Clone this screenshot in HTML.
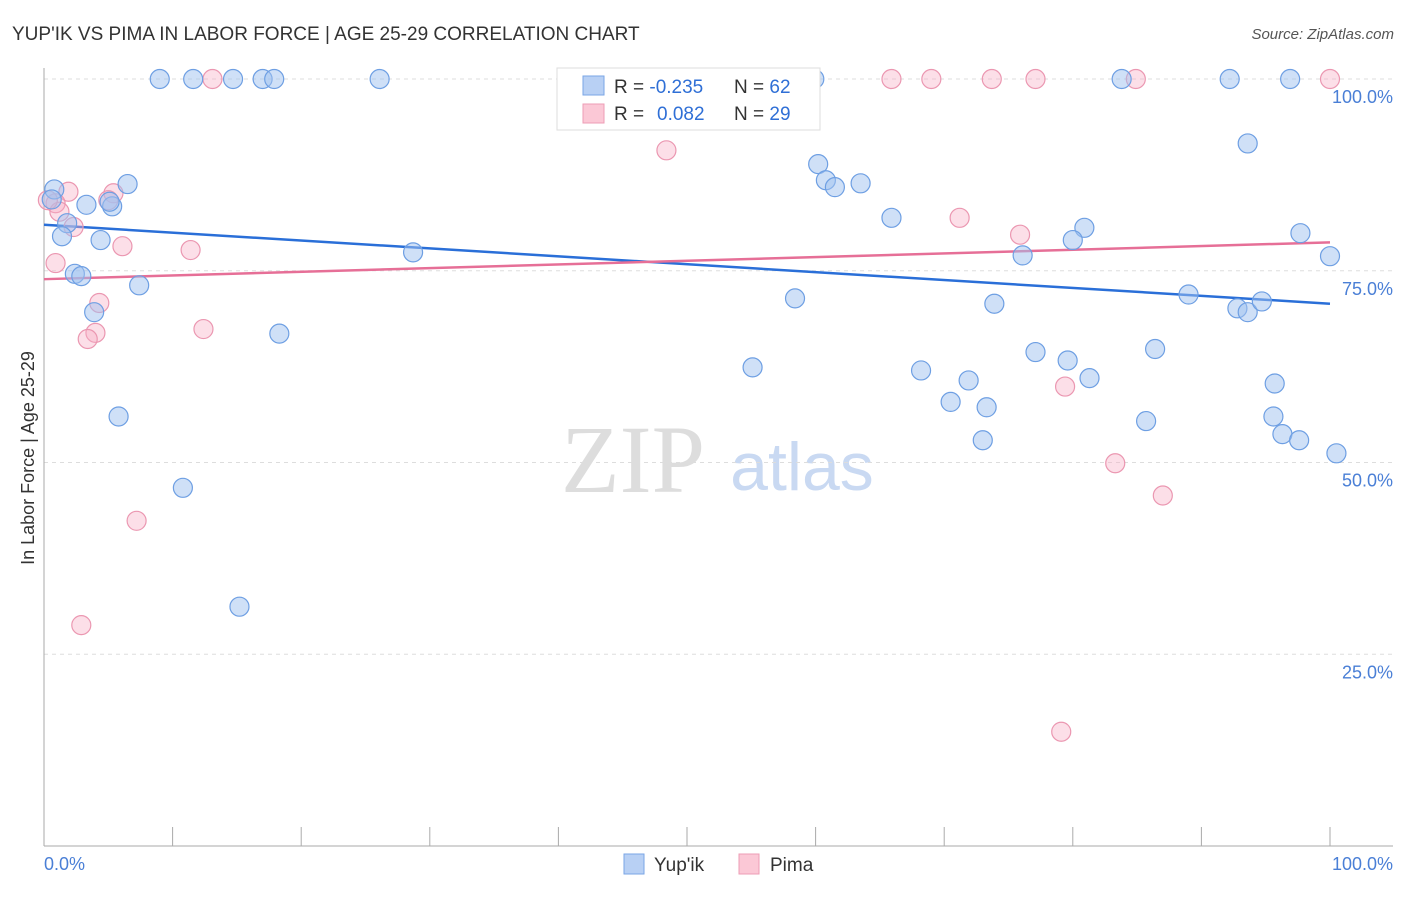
<!DOCTYPE html>
<html><head><meta charset="utf-8"><style>
body{margin:0;background:#fff;font-family:"Liberation Sans",sans-serif}
</style></head><body>
<svg width="1406" height="892" viewBox="0 0 1406 892" xmlns="http://www.w3.org/2000/svg" font-family="Liberation Sans, sans-serif">
<text x="12" y="40" font-size="19" fill="#333">YUP'IK VS PIMA IN LABOR FORCE | AGE 25-29 CORRELATION CHART</text>
<text x="1394" y="39" font-size="15" fill="#555" font-style="italic" text-anchor="end">Source: ZipAtlas.com</text>
<text x="34" y="458" font-size="18" fill="#333" text-anchor="middle" transform="rotate(-90 34 458)">In Labor Force | Age 25-29</text>
<g>
<text x="633" y="492" font-size="96" fill="#ddd" font-family="Liberation Serif, serif" text-anchor="middle">ZIP</text>
<text x="802" y="490" font-size="68" fill="#c9d9f2" text-anchor="middle">atlas</text>
</g>
<g id="grid"></g>
<g id="axes"></g>
<g id="lines"></g>
<g id="pts"></g>
<g>
<rect x="557" y="68" width="263" height="62" fill="#fff" stroke="#ddd"/>
<rect x="583" y="76" width="21" height="19" fill="#b8d0f4" stroke="#7aa6e6"/>
<rect x="583" y="104" width="21" height="19" fill="#fbc8d6" stroke="#ee9db5"/>
<text x="614" y="93" font-size="19" fill="#333">R = <tspan fill="#2f6fd6">-0.235</tspan></text>
<text x="734" y="93" font-size="19" fill="#333">N = <tspan fill="#2f6fd6">62</tspan></text>
<text x="614" y="120" font-size="19" fill="#333">R = <tspan fill="#2f6fd6" x="657">0.082</tspan></text>
<text x="734" y="120" font-size="19" fill="#333">N = <tspan fill="#2f6fd6">29</tspan></text>
</g>
<g>
<rect x="624" y="854" width="20" height="20" fill="#b8d0f4" stroke="#7aa6e6"/>
<text x="654" y="871" font-size="19" fill="#333">Yup'ik</text>
<rect x="739" y="854" width="20" height="20" fill="#fbc8d6" stroke="#ee9db5"/>
<text x="770" y="871" font-size="19" fill="#333">Pima</text>
</g>
</svg>
<script>
const yTicks=[100,75,50,25];
const yTickLabels=["100.0%","75.0%","50.0%","25.0%"];
const xTickLabels=["0.0%","100.0%"];
const yupikX=[9,11.6,14.7,17,17.9,26.1,49.9,59.9,83.8,92.2,96.9,93.6,60.2,60.8,61.5,63.5,6.5,0.8,0.6,3.3,5.3,5.1,1.8,1.4,4.4,65.9,80.9,80,97.7,100,76.1,28.7,2.4,2.9,7.4,58.4,73.9,89,92.8,93.6,94.7,3.9,18.3,77.1,86.4,79.6,55.1,68.2,71.9,81.3,95.7,70.5,73.3,5.8,85.7,95.6,96.3,73,97.6,100.5,10.8,15.2];
const yupikY=[100,100,100,100,100,100,100,100,100,100,100,91.6,88.9,86.8,85.9,86.4,86.3,85.6,84.3,83.6,83.4,84,81.2,79.5,79,81.9,80.6,79,79.9,76.9,77,77.4,74.6,74.3,73.1,71.4,70.7,71.9,70.1,69.6,71,69.6,66.8,64.4,64.8,63.3,62.4,62,60.7,61,60.3,57.9,57.2,56,55.4,56,53.7,52.9,52.9,51.2,46.7,31.2];
const pimaX=[13.1,49.9,65.9,69,73.7,77.1,84.9,100,48.4,1.9,0.9,1.2,2.3,5.4,5,6.1,11.4,0.9,4.3,4,3.4,12.4,71.2,75.9,79.4,83.3,87,7.2,2.9,79.1,0.3];
const pimaY=[100,100,100,100,100,100,100,100,90.7,85.3,83.8,82.7,80.7,85.1,84.2,78.2,77.7,76,70.8,66.9,66.1,67.4,81.9,79.7,59.9,49.9,45.7,42.4,28.8,14.9,84.2];
const yupikTrend=[81.0,70.7];
const pimaTrend=[73.9,78.7];
const X0=44,X1=1330,Y0=846,Y100=79;
const sx=v=>X0+(X1-X0)*v/100;
const sy=v=>Y0-(Y0-Y100)*v/100;
const NS="http://www.w3.org/2000/svg";
function mk(tag,attrs,parent){const e=document.createElementNS(NS,tag);for(const k in attrs)e.setAttribute(k,attrs[k]);document.getElementById(parent).appendChild(e);return e;}
yTicks.forEach((t,i)=>{
 const g=mk('line',{x1:44,x2:1393,y1:sy(t),y2:sy(t),stroke:'#ddd','stroke-dasharray':'4,4'},'grid');
 
 
 const l=mk('text',{x:1393,y:sy(t)+24,'font-size':18,fill:'#4a7fd6','text-anchor':'end'},'axes');
 l.textContent=yTickLabels[i];
 
 
});
const ya=mk('line',{x1:44,x2:44,y1:68,y2:846,stroke:'#aaa'},'axes');


const xa=mk('line',{x1:44,x2:1393,y1:846,y2:846,stroke:'#aaa'},'axes');


for(let i=0;i<=10;i++){
 const t=mk('line',{x1:sx(i*10),x2:sx(i*10),y1:827,y2:846,stroke:'#aaa'},'axes');
 
 
}
[[0,'start',44],[100,'end',1393]].forEach((a,i)=>{
 const l=mk('text',{x:a[2],y:870,'font-size':18,fill:'#4a7fd6','text-anchor':a[1]},'axes');
 l.textContent=xTickLabels[i];
 
 
});
function pts(xs,ys,fill,stroke,name){
 xs.forEach((x,i)=>{
  const c=mk('circle',{cx:sx(x),cy:sy(ys[i]),r:9.5,fill:fill,stroke:stroke,'stroke-width':1.2},'pts');
  
  
 });
}
pts(pimaX,pimaY,'rgba(248,175,198,0.4)','#eb97b1','pima-point');
pts(yupikX,yupikY,'rgba(160,194,240,0.5)','#6e9fe3','yupik-point');
const bl=mk('line',{x1:sx(0),x2:sx(100),y1:sy(yupikTrend[0]),y2:sy(yupikTrend[1]),stroke:'#2a6fd8','stroke-width':2.5},'lines');


const pl=mk('line',{x1:sx(0),x2:sx(100),y1:sy(pimaTrend[0]),y2:sy(pimaTrend[1]),stroke:'#e66f97','stroke-width':2.5},'lines');


</script>
</body></html>
